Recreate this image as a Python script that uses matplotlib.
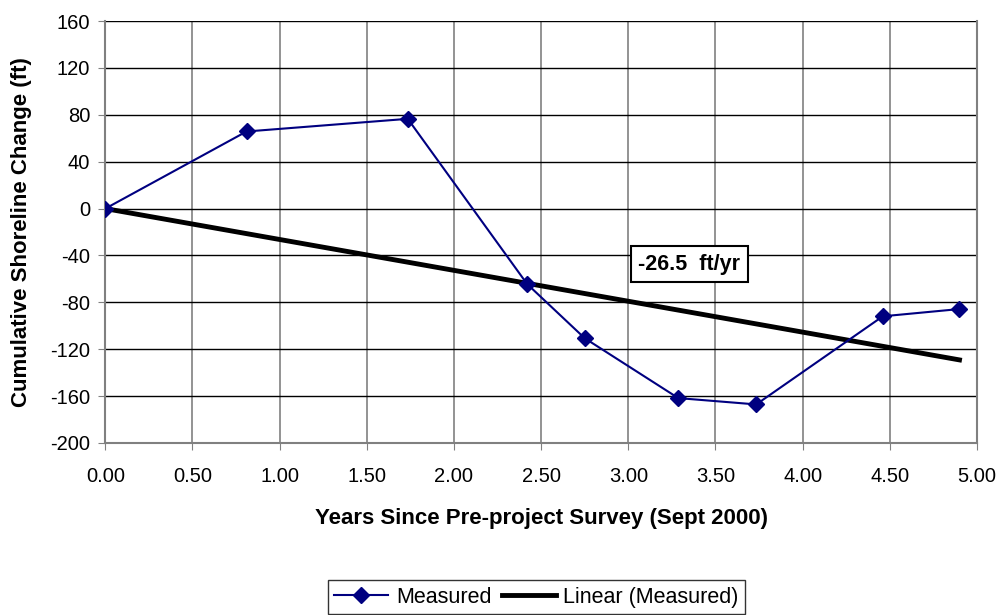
import numpy as np
import matplotlib
matplotlib.use('Agg')
import matplotlib.pyplot as plt

# Data
years = [0.00, 0.81, 1.735, 2.42, 2.75, 3.287, 3.734, 4.46, 4.90]
change_ft = [0.0, 65.8, 76.6, -64.4, -110.6, -161.7, -167.1, -91.9, -85.7]
y_ticks = [-200, -160, -120, -80, -40, 0, 40, 80, 120, 160]
x_ticks = [0.0, 0.5, 1.0, 1.5, 2.0, 2.5, 3.0, 3.5, 4.0, 4.5, 5.0]
trend_label = '-26.5  ft/yr'

plt.rcParams['font.family'] = ['Liberation Sans', 'DejaVu Sans']
plt.rcParams['axes.unicode_minus'] = False

x = np.array(years)
y = np.array(change_ft)
# Excel-style linear trend with intercept set to zero
slope = np.sum(x * y) / np.sum(x * x)
trend_x = np.array([x[0], x[-1]])
trend_y = slope * trend_x

fig = plt.figure(figsize=(10.03, 6.15), dpi=100)
ax = fig.add_axes([0.105, 0.2797, 0.869, 0.686])

ax.plot(x, y, color='#000080', linewidth=1.5, marker='D', markersize=8.5,
        label='Measured', zorder=3)
ax.plot(trend_x, trend_y, color='black', linewidth=3.5,
        label='Linear (Measured)', zorder=2)

ax.set_xlim(0, 5)
ax.set_ylim(-200, 160)
ax.set_xticks(x_ticks)
ax.set_xticklabels([f'{t:.2f}' for t in x_ticks])
ax.set_yticks(y_ticks)
ax.tick_params(axis='both', labelsize=14.5, direction='out', length=5, color='#808080')
ax.tick_params(axis='x', pad=12)
ax.tick_params(axis='y', pad=6)

ax.grid(True, axis='y', color='black', linewidth=1)
ax.grid(True, axis='x', color='#808080', linewidth=1.2)
ax.set_axisbelow(True)
for side in ['left', 'bottom', 'right']:
    ax.spines[side].set_color('#808080')
    ax.spines[side].set_linewidth(1.5)
ax.spines['top'].set_visible(False)

ax.set_xlabel('Years Since Pre-project Survey (Sept 2000)', fontsize=16,
              fontweight='bold', labelpad=16)
ax.set_ylabel('Cumulative Shoreline Change (ft)', fontsize=16,
              fontweight='bold', labelpad=13)

ax.text(3.35, -47.5, trend_label, fontsize=15.5, fontweight='bold',
        ha='center', va='center', zorder=4,
        bbox=dict(boxstyle='square,pad=0.35', facecolor='white',
                  edgecolor='black', linewidth=1.5))

fig.legend(loc='center', bbox_to_anchor=(0.535, 0.029), ncol=2, fontsize=15.5,
           frameon=True, fancybox=False, edgecolor='black', handlelength=2.5,
           columnspacing=0.5, handletextpad=0.35, borderpad=0.3,
           borderaxespad=0)

fig.savefig('out.png', dpi=100)
